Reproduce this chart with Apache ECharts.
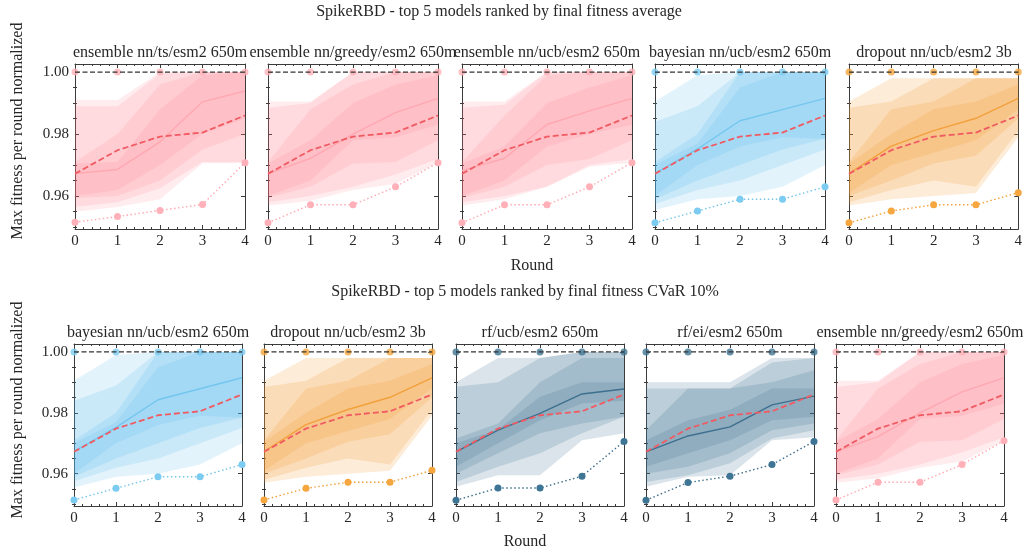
<!DOCTYPE html>
<html><head><meta charset="utf-8">
<script src="https://cdn.jsdelivr.net/npm/echarts@6/dist/echarts.min.js"></script>
<style>html,body{margin:0;padding:0;background:#fff}#c{width:1025px;height:554px}</style>
</head><body><div id="c"></div>
<script>
// ---------------- data ----------------
const rounds = [0, 1, 2, 3, 4];
const yTicks = [0.96, 0.98, 1.00];
const yMinorTicks = [0.950, 0.955, 0.965, 0.970, 0.975, 0.985, 0.990, 0.995];
const baselineMedian = [0.9672, 0.9748, 0.9792, 0.9805, 0.9860];
const globalMax = [1.0, 1.0, 1.0, 1.0, 1.0];

// ensemble nn/ts/esm2 650m
const ensTsMedian = [0.9673, 0.9686, 0.9775, 0.9904, 0.9939];
const ensTsMin    = [0.9516, 0.9534, 0.9554, 0.9573, 0.9708];
const ensTsMax    = [1.0, 1.0, 1.0, 1.0, 1.0];
const ensTsHi1 = [0.9910, 0.9910, 1.0000, 1.0000, 1.0000];
const ensTsHi2 = [0.9890, 0.9890, 0.9995, 1.0000, 1.0000];
const ensTsHi3 = [0.9710, 0.9800, 0.9960, 1.0000, 1.0000];
const ensTsHi4 = [0.9705, 0.9710, 0.9880, 0.9990, 1.0000];
const ensTsLo4 = [0.9600, 0.9620, 0.9700, 0.9800, 0.9850];
const ensTsLo3 = [0.9594, 0.9600, 0.9650, 0.9750, 0.9800];
const ensTsLo2 = [0.9565, 0.9580, 0.9625, 0.9710, 0.9710];
const ensTsLo1 = [0.9550, 0.9565, 0.9590, 0.9706, 0.9706];

// ensemble nn/greedy/esm2 650m
const ensGreedyMedian = [0.9673, 0.9722, 0.9800, 0.9869, 0.9915];
const ensGreedyMin    = [0.9514, 0.9572, 0.9572, 0.9630, 0.9708];
const ensGreedyMax    = [1.0, 1.0, 1.0, 1.0, 1.0];
const ensGreedyHi1 = [0.9905, 0.9905, 1.0000, 1.0000, 1.0000];
const ensGreedyHi2 = [0.9885, 0.9900, 1.0000, 1.0000, 1.0000];
const ensGreedyHi3 = [0.9710, 0.9880, 0.9960, 1.0000, 1.0000];
const ensGreedyHi4 = [0.9705, 0.9780, 0.9900, 0.9960, 0.9990];
const ensGreedyLo4 = [0.9600, 0.9650, 0.9780, 0.9790, 0.9830];
const ensGreedyLo3 = [0.9595, 0.9630, 0.9705, 0.9710, 0.9780];
const ensGreedyLo2 = [0.9580, 0.9600, 0.9630, 0.9670, 0.9720];
const ensGreedyLo1 = [0.9570, 0.9585, 0.9620, 0.9640, 0.9708];

// ensemble nn/ucb/esm2 650m
const ensUcbMedian = [0.9682, 0.9722, 0.9831, 0.9875, 0.9915];
const ensUcbMin    = [0.9514, 0.9572, 0.9572, 0.9630, 0.9708];
const ensUcbMax    = [1.0, 1.0, 1.0, 1.0, 1.0];
const ensUcbHi1 = [0.9905, 0.9905, 1.0000, 1.0000, 1.0000];
const ensUcbHi2 = [0.9885, 0.9895, 1.0000, 1.0000, 1.0000];
const ensUcbHi3 = [0.9710, 0.9860, 0.9990, 1.0000, 1.0000];
const ensUcbHi4 = [0.9705, 0.9760, 0.9900, 0.9950, 0.9990];
const ensUcbLo4 = [0.9600, 0.9650, 0.9760, 0.9800, 0.9830];
const ensUcbLo3 = [0.9595, 0.9630, 0.9700, 0.9720, 0.9780];
const ensUcbLo2 = [0.9580, 0.9600, 0.9630, 0.9700, 0.9720];
const ensUcbLo1 = [0.9570, 0.9590, 0.9630, 0.9695, 0.9708];

// bayesian nn/ucb/esm2 650m
const bayesMedian = [0.9673, 0.9752, 0.9843, 0.9879, 0.9915];
const bayesMin    = [0.9514, 0.9552, 0.9590, 0.9590, 0.9630];
const bayesMax    = [1.0, 1.0, 1.0, 1.0, 1.0];
const bayesHi1 = [0.9905, 0.9990, 1.0000, 1.0000, 1.0000];
const bayesHi2 = [0.9840, 0.9890, 1.0000, 1.0000, 1.0000];
const bayesHi3 = [0.9710, 0.9800, 1.0000, 1.0000, 1.0000];
const bayesHi4 = [0.9700, 0.9770, 0.9950, 1.0000, 1.0000];
const bayesLo4 = [0.9600, 0.9700, 0.9760, 0.9790, 0.9785];
const bayesLo3 = [0.9590, 0.9650, 0.9700, 0.9750, 0.9785];
const bayesLo2 = [0.9575, 0.9620, 0.9650, 0.9700, 0.9750];
const bayesLo1 = [0.9555, 0.9590, 0.9600, 0.9630, 0.9700];

// dropout nn/ucb/esm2 3b
const dropMedian = [0.9673, 0.9761, 0.9811, 0.9851, 0.9915];
const dropMin    = [0.9514, 0.9552, 0.9572, 0.9572, 0.9611];
const dropMax    = [1.0, 1.0, 1.0, 1.0, 1.0];
const dropHi1 = [0.9905, 0.9980, 0.9980, 0.9980, 0.9980];
const dropHi2 = [0.9885, 0.9905, 0.9980, 0.9980, 0.9980];
const dropHi3 = [0.9710, 0.9880, 0.9905, 0.9980, 0.9980];
const dropHi4 = [0.9705, 0.9800, 0.9880, 0.9905, 0.9960];
const dropLo4 = [0.9610, 0.9700, 0.9740, 0.9780, 0.9880];
const dropLo3 = [0.9600, 0.9650, 0.9705, 0.9730, 0.9850];
const dropLo2 = [0.9580, 0.9620, 0.9650, 0.9630, 0.9810];
const dropLo1 = [0.9570, 0.9590, 0.9600, 0.9610, 0.9790];

// rf/ucb/esm2 650m
const rfUcbMedian = [0.9672, 0.9743, 0.9798, 0.9862, 0.9878];
const rfUcbMin    = [0.9513, 0.9553, 0.9553, 0.9592, 0.9706];
const rfUcbMax    = [1.0, 1.0, 1.0, 1.0, 1.0];
const rfUcbHi1 = [0.9900, 0.9980, 0.9980, 1.0000, 1.0000];
const rfUcbHi2 = [0.9886, 0.9900, 0.9980, 1.0000, 1.0000];
const rfUcbHi3 = [0.9716, 0.9765, 0.9900, 0.9980, 0.9980];
const rfUcbHi4 = [0.9700, 0.9745, 0.9853, 0.9900, 0.9900];
const rfUcbLo4 = [0.9623, 0.9700, 0.9776, 0.9831, 0.9840];
const rfUcbLo3 = [0.9600, 0.9667, 0.9733, 0.9765, 0.9787];
const rfUcbLo2 = [0.9573, 0.9623, 0.9667, 0.9733, 0.9787];
const rfUcbLo1 = [0.9557, 0.9595, 0.9595, 0.9710, 0.9733];

// rf/ei/esm2 650m
const rfEiMedian = [0.9672, 0.9724, 0.9754, 0.9826, 0.9855];
const rfEiMin    = [0.9513, 0.9571, 0.9592, 0.9630, 0.9706];
const rfEiMax    = [1.0, 1.0, 1.0, 1.0, 1.0];
const rfEiHi1 = [0.9900, 0.9900, 0.9900, 0.9980, 0.9980];
const rfEiHi2 = [0.9880, 0.9880, 0.9880, 0.9965, 0.9980];
const rfEiHi3 = [0.9743, 0.9880, 0.9880, 0.9900, 0.9940];
const rfEiHi4 = [0.9710, 0.9776, 0.9810, 0.9880, 0.9880];
const rfEiLo4 = [0.9623, 0.9667, 0.9710, 0.9776, 0.9787];
const rfEiLo3 = [0.9600, 0.9623, 0.9667, 0.9743, 0.9765];
const rfEiLo2 = [0.9573, 0.9595, 0.9634, 0.9716, 0.9743];
const rfEiLo1 = [0.9557, 0.9590, 0.9595, 0.9710, 0.9720];

const titleTop = 'SpikeRBD - top 5 models ranked by final fitness average';
const titleBottom = 'SpikeRBD - top 5 models ranked by final fitness CVaR 10%';
const xLabel = 'Round';
const yLabel = 'Max fitness per round normalized';

// ---------------- styling / layout ----------------
const PINK = {band: '#ff6f7d', op: 0.13, line: '#ffa8b1', dot: '#ffb0b8'};
const BLUE = {band: '#4db5ea', op: 0.16, line: '#74c6ee', dot: '#7ccbf0'};
const ORANGE = {band: '#f29a2e', op: 0.19, line: '#f2a03c', dot: '#f5a63e'};
const TEAL = {band: '#3d6f8e', op: 0.19, line: '#3d6f8e', dot: '#3f7594'};

const models = {
  ensTs: {name: 'ensemble nn/ts/esm2 650m', c: PINK, med: ensTsMedian, min: ensTsMin, max: ensTsMax,
    hi: [ensTsHi1, ensTsHi2, ensTsHi3, ensTsHi4], lo: [ensTsLo1, ensTsLo2, ensTsLo3, ensTsLo4]},
  ensGreedy: {name: 'ensemble nn/greedy/esm2 650m', c: PINK, med: ensGreedyMedian, min: ensGreedyMin, max: ensGreedyMax,
    hi: [ensGreedyHi1, ensGreedyHi2, ensGreedyHi3, ensGreedyHi4], lo: [ensGreedyLo1, ensGreedyLo2, ensGreedyLo3, ensGreedyLo4]},
  ensUcb: {name: 'ensemble nn/ucb/esm2 650m', c: PINK, med: ensUcbMedian, min: ensUcbMin, max: ensUcbMax,
    hi: [ensUcbHi1, ensUcbHi2, ensUcbHi3, ensUcbHi4], lo: [ensUcbLo1, ensUcbLo2, ensUcbLo3, ensUcbLo4]},
  bayes: {name: 'bayesian nn/ucb/esm2 650m', c: BLUE, med: bayesMedian, min: bayesMin, max: bayesMax,
    hi: [bayesHi1, bayesHi2, bayesHi3, bayesHi4], lo: [bayesLo1, bayesLo2, bayesLo3, bayesLo4]},
  drop: {name: 'dropout nn/ucb/esm2 3b', c: ORANGE, med: dropMedian, min: dropMin, max: dropMax,
    hi: [dropHi1, dropHi2, dropHi3, dropHi4], lo: [dropLo1, dropLo2, dropLo3, dropLo4]},
  rfUcb: {name: 'rf/ucb/esm2 650m', c: TEAL, med: rfUcbMedian, min: rfUcbMin, max: rfUcbMax,
    hi: [rfUcbHi1, rfUcbHi2, rfUcbHi3, rfUcbHi4], lo: [rfUcbLo1, rfUcbLo2, rfUcbLo3, rfUcbLo4]},
  rfEi: {name: 'rf/ei/esm2 650m', c: TEAL, med: rfEiMedian, min: rfEiMin, max: rfEiMax,
    hi: [rfEiHi1, rfEiHi2, rfEiHi3, rfEiHi4], lo: [rfEiLo1, rfEiLo2, rfEiLo3, rfEiLo4]}
};

const topRow = ['ensTs', 'ensGreedy', 'ensUcb', 'bayes', 'drop'];
const bottomRow = ['bayes', 'drop', 'rfUcb', 'rfEi', 'ensGreedy'];
const topLefts = [75, 268, 462, 655, 849];
const botLefts = [74, 264, 456, 646, 836];

const panels = [];
topRow.forEach((m, i) => panels.push({m, left: topLefts[i], top: 64, width: 170, height: 165, col: i}));
bottomRow.forEach((m, i) => panels.push({m, left: botLefts[i], top: 344, width: 168, height: 162, col: i}));

const YMIN = 0.9494, YMAX = 1.0026;
const FONT = '"Liberation Serif", "DejaVu Serif", serif';
const TXT = '#262626';
const AX = '#3a3a3a';

const grid = [], xAxis = [], yAxis = [], series = [], graphic = [];

function bandSeries(xi, yi, lo, hi, c) {
  return {
    type: 'custom', xAxisIndex: xi, yAxisIndex: yi, silent: true, z: 1, clip: true,
    data: rounds.map((r, i) => [r, lo[i], hi[i]]),
    encode: {x: 0, y: [1, 2]},
    renderItem: (params, api) => {
      if (params.dataIndex !== 0) return null;
      const upper = rounds.map((r, i) => api.coord([r, hi[i]]));
      const lower = rounds.map((r, i) => api.coord([r, lo[i]])).reverse();
      return {type: 'polygon', shape: {points: upper.concat(lower)},
        style: {fill: c.band, opacity: c.op}};
    }
  };
}

panels.forEach((p, gi) => {
  const md = models[p.m];
  grid.push({left: p.left, top: p.top, width: p.width, height: p.height, containLabel: false});
  const xBase = {
    type: 'value', gridIndex: gi, min: 0, max: 4, interval: 1,
    splitLine: {show: false},
    axisLine: {show: true, onZero: false, lineStyle: {color: AX, width: 1}},
    axisTick: {show: true, inside: true, length: 4, lineStyle: {color: AX}},
    minorTick: {show: true, splitNumber: 5, length: 2, lineStyle: {color: AX}},
  };
  xAxis.push(Object.assign({}, xBase, {position: 'bottom',
    axisLabel: {show: true, fontFamily: FONT, fontSize: 15, color: TXT, margin: 5}}));
  xAxis.push(Object.assign({}, xBase, {position: 'top', axisLabel: {show: false}}));
  const yBase = {type: 'value', gridIndex: gi, min: YMIN, max: YMAX, splitLine: {show: false}};
  yAxis.push(Object.assign({}, yBase, {position: 'left',
    axisLine: {show: true, onZero: false, lineStyle: {color: AX, width: 1}},
    axisTick: {show: true, inside: true, length: 4, customValues: yTicks, lineStyle: {color: AX}},
    axisLabel: {show: p.col === 0, customValues: yTicks, formatter: v => v.toFixed(2),
      fontFamily: FONT, fontSize: 15, color: TXT, margin: 6}}));
  yAxis.push(Object.assign({}, yBase, {position: 'left',
    axisLine: {show: false},
    axisTick: {show: true, inside: true, length: 2, customValues: yMinorTicks, lineStyle: {color: AX}},
    axisLabel: {show: false}}));
  yAxis.push(Object.assign({}, yBase, {position: 'right',
    axisLine: {show: true, onZero: false, lineStyle: {color: AX, width: 1}},
    axisTick: {show: true, inside: true, length: 4, customValues: yTicks, lineStyle: {color: AX}},
    axisLabel: {show: false}}));
  yAxis.push(Object.assign({}, yBase, {position: 'right',
    axisLine: {show: false},
    axisTick: {show: true, inside: true, length: 2, customValues: yMinorTicks, lineStyle: {color: AX}},
    axisLabel: {show: false}}));

  const xi = gi * 2, yi = gi * 4;
  const pts = arr => rounds.map((r, i) => [r, arr[i]]);
  // quantile bands (outer -> inner)
  md.lo.forEach((lo, k) => series.push(bandSeries(xi, yi, lo, md.hi[k], md.c)));
  // min (dotted)
  series.push({type: 'line', xAxisIndex: xi, yAxisIndex: yi, data: pts(md.min),
    symbol: 'circle', symbolSize: 7, itemStyle: {color: md.c.dot},
    lineStyle: {color: md.c.line, width: 1.4, type: [1.5, 2.5]}, z: 3});
  // median (solid)
  series.push({type: 'line', xAxisIndex: xi, yAxisIndex: yi, data: pts(md.med),
    symbol: 'none', lineStyle: {color: md.c.line, width: 1.4}, z: 3});
  // global max (dashed dark) with model's max dots
  series.push({type: 'line', xAxisIndex: xi, yAxisIndex: yi, data: pts(globalMax),
    symbol: 'none', lineStyle: {color: '#333', width: 1.2, type: [5, 2.5]}, z: 4});
  series.push({type: 'scatter', xAxisIndex: xi, yAxisIndex: yi, data: pts(md.max),
    symbol: 'circle', symbolSize: 7, itemStyle: {color: md.c.dot}, z: 3});
  // baseline median (red dashed)
  series.push({type: 'line', xAxisIndex: xi, yAxisIndex: yi, data: pts(baselineMedian),
    symbol: 'none', lineStyle: {color: '#f05a62', width: 1.8, type: [6, 3]}, z: 5});

  graphic.push({type: 'text', x: p.left + p.width / 2, y: p.top - 11,
    style: {text: md.name, font: '16px ' + FONT, fill: TXT, align: 'center', verticalAlign: 'middle'}});
});

graphic.push({type: 'text', x: 499, y: 12,
  style: {text: titleTop, font: '16px ' + FONT, fill: TXT, align: 'center', verticalAlign: 'middle'}});
graphic.push({type: 'text', x: 525, y: 292,
  style: {text: titleBottom, font: '16px ' + FONT, fill: TXT, align: 'center', verticalAlign: 'middle'}});
graphic.push({type: 'text', x: 532, y: 266,
  style: {text: xLabel, font: '16px ' + FONT, fill: TXT, align: 'center', verticalAlign: 'middle'}});
graphic.push({type: 'text', x: 525, y: 542,
  style: {text: xLabel, font: '16px ' + FONT, fill: TXT, align: 'center', verticalAlign: 'middle'}});
graphic.push({type: 'text', x: 18, y: 131, rotation: Math.PI / 2,
  style: {text: yLabel, font: '16px ' + FONT, fill: TXT, align: 'center', verticalAlign: 'middle'}});
graphic.push({type: 'text', x: 18, y: 410, rotation: Math.PI / 2,
  style: {text: yLabel, font: '16px ' + FONT, fill: TXT, align: 'center', verticalAlign: 'middle'}});

const chart = echarts.init(document.getElementById('c'), null, {renderer: 'canvas'});
chart.setOption({animation: false, backgroundColor: '#fff', grid, xAxis, yAxis, series, graphic});
</script></body></html>
